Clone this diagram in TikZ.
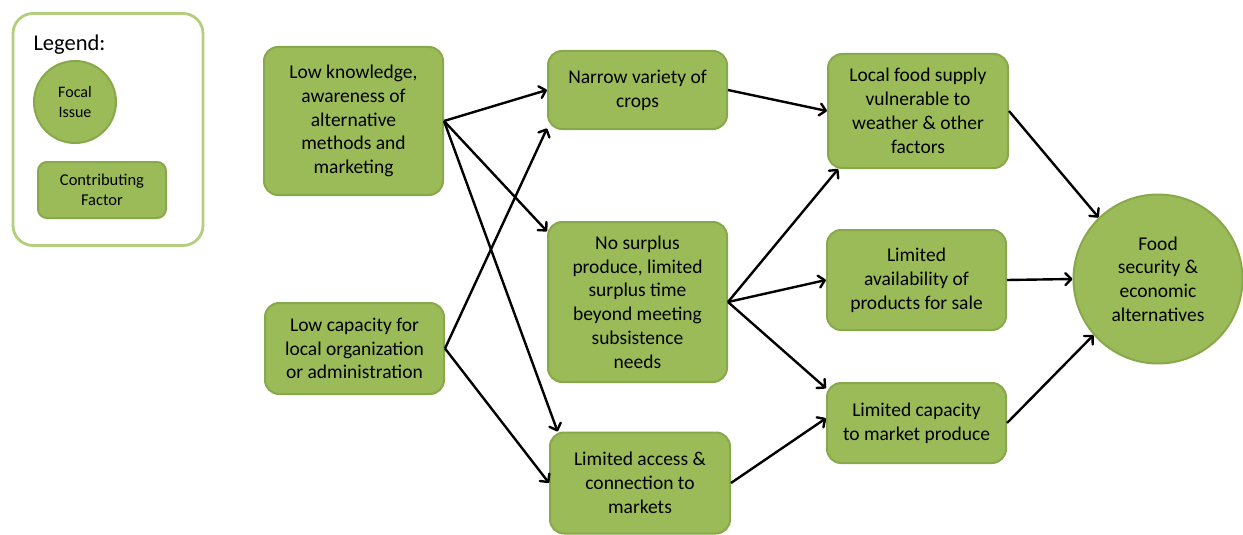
\documentclass[tikz,border=0pt]{standalone}
\usepackage{fontspec}
\setmainfont{Carlito}
\usetikzlibrary{arrows.meta}
\definecolor{boxfill}{HTML}{9BBB59}
\definecolor{boxline}{HTML}{88A84C}
\definecolor{legline}{HTML}{B3CE7C}

\begin{document}
\begin{tikzpicture}[x=1pt,y=-1pt,
    factor/.style={draw=boxline,fill=boxfill,line width=2pt,rounded corners=14pt,
      align=center,inner sep=2pt,font=\fontsize{19.5}{23.8}\selectfont},
    focal/.style={circle,draw=boxline,fill=boxfill,line width=2pt,align=center,
      inner sep=0pt,font=\fontsize{19.5}{23.8}\selectfont},
    link/.style={-{Straight Barb[length=6pt,width=12pt,round]},line width=2.4pt}]
    \useasboundingbox (0,0) rectangle (1243,535);
    \node[draw=legline,line width=2.8pt,rounded corners=20pt,minimum width=190pt,
      minimum height=232pt] (legend) at (108,129.5) {};
    \node[anchor=west,font=\fontsize{22.5}{27}\selectfont] (legtitle) at (30,45) {Legend:};
    \node[focal,minimum size=82pt,font=\fontsize{16}{20}\selectfont] (legfocal) at (75,102) {Focal\\Issue};
    \node[factor,minimum width=128pt,minimum height=56pt,rounded corners=9pt,
      font=\fontsize{16.5}{20}\selectfont] (legfactor) at (102,190) {Contributing\\Factor};
    \node[factor,minimum width=179pt,minimum height=148pt] (know) at (353.5,121) {Low knowledge,\\awareness of\\alternative\\methods and\\marketing};
    \node[factor,minimum width=179pt,minimum height=91pt] (capac) at (354.5,348.5) {Low capacity for\\local organization\\or administration};
    \node[factor,minimum width=179pt,minimum height=78pt] (crops) at (637.5,90) {Narrow variety of\\crops};
    \node[factor,minimum width=179pt,minimum height=160pt] (surplus) at (637.5,302) {No surplus\\produce, limited\\surplus time\\beyond meeting\\subsistence\\needs};
    \node[factor,minimum width=180pt,minimum height=101pt] (access) at (640,483) {Limited access \&\\connection to\\markets};
    \node[factor,minimum width=180pt,minimum height=114pt] (supply) at (918,111) {Local food supply\\vulnerable to\\weather \& other\\factors};
    \node[factor,minimum width=179pt,minimum height=100pt] (avail) at (916.5,280) {Limited\\availability of\\products for sale};
    \node[factor,minimum width=179pt,minimum height=80pt] (market) at (916.5,423) {Limited capacity\\to market produce};
    \node[focal,minimum size=169pt] (food) at (1158,279) {Food\\security \&\\economic\\alternatives};
    \draw[link] (know.east) -- (crops.west);
    \draw[link] (know.east) -- (surplus.142);
    \draw[link] (know.east) -- (access.148);
    \draw[link] (capac.east) -- (crops.203);
    \draw[link] (capac.east) -- (access.west);
    \draw[link] (crops.east) -- (supply.west);
    \draw[link] (surplus.east) -- (supply.216);
    \draw[link] (surplus.east) -- (avail.west);
    \draw[link] (surplus.east) -- (market.159);
    \draw[link] (access.east) -- (market.177);
    \draw[link] (supply.east) -- (food.134);
    \draw[link] (avail.east) -- (food.west);
    \draw[link] (market.east) -- (food.221);
\end{tikzpicture}
\end{document}
